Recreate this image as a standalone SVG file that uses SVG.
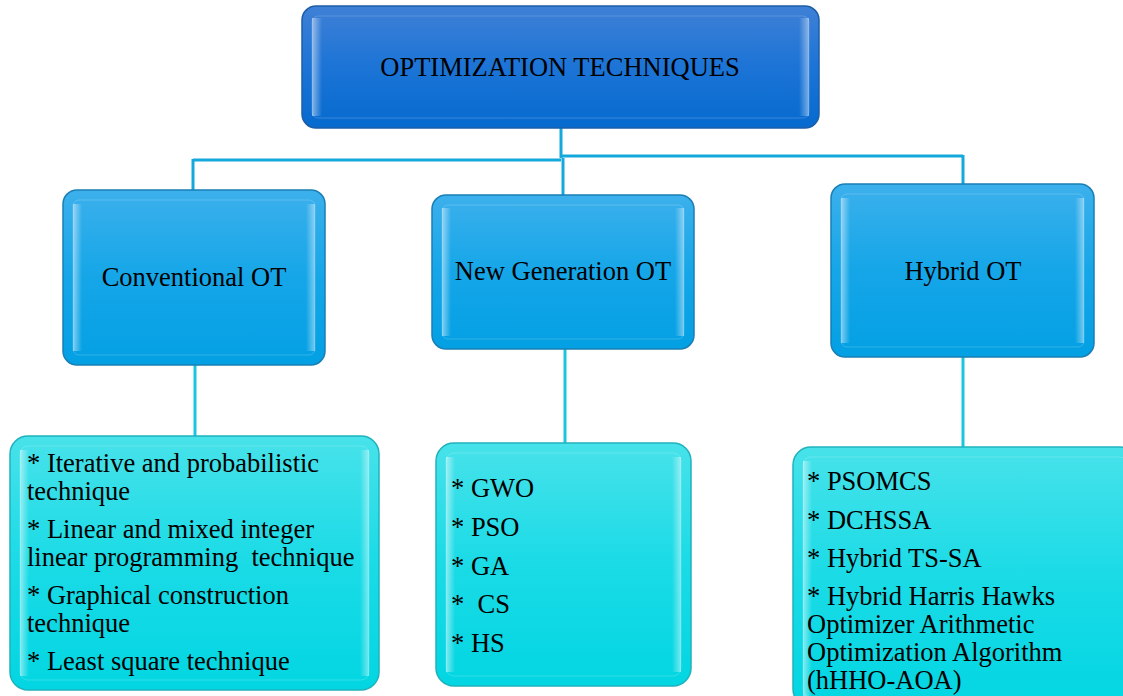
<svg xmlns="http://www.w3.org/2000/svg" width="1123" height="696" viewBox="0 0 1123 696">
<defs>
<linearGradient id="gTop" x1="0" y1="0" x2="0" y2="1">
<stop offset="0" stop-color="#3f80d6"/><stop offset="0.5" stop-color="#1c74d6"/><stop offset="1" stop-color="#066acf"/>
</linearGradient>
<linearGradient id="gMid" x1="0" y1="0" x2="0" y2="1">
<stop offset="0" stop-color="#3cb0ec"/><stop offset="0.5" stop-color="#15a6e8"/><stop offset="1" stop-color="#03a0e4"/>
</linearGradient>
<linearGradient id="gBot" x1="0" y1="0" x2="0" y2="1">
<stop offset="0" stop-color="#48e2ea"/><stop offset="0.5" stop-color="#1adbe6"/><stop offset="1" stop-color="#02d6e2"/>
</linearGradient>
<linearGradient id="gEdge" x1="0" y1="0" x2="1" y2="0">
<stop offset="0" stop-color="#ffffff" stop-opacity="0.5"/><stop offset="1" stop-color="#ffffff" stop-opacity="0"/>
</linearGradient>
<linearGradient id="gEdgeR" x1="1" y1="0" x2="0" y2="0">
<stop offset="0" stop-color="#ffffff" stop-opacity="0.45"/><stop offset="1" stop-color="#ffffff" stop-opacity="0"/>
</linearGradient>
</defs>
<style>
.top{fill:url(#gTop);stroke:#1d5ea6;stroke-width:1.5}
.mid{fill:url(#gMid);stroke:#1a7fb4;stroke-width:1.5}
.bot{fill:url(#gBot);stroke:#1fb2bd;stroke-width:1.5}
.inner{fill:none;stroke:#ffffff;stroke-opacity:0.18;stroke-width:1}
.t{font-family:"Liberation Serif","Times New Roman",serif;fill:#000;font-size:26.5px}
.c{text-anchor:middle}
.conn{fill:none;stroke-width:3}
</style>

<g id="connectors">
<path class="conn" stroke="#15a8dc" d="M561 128 V158"/>
<path class="conn" stroke="#15a8dc" d="M193 160 H561 M561 156 H963"/>
<path class="conn" stroke="#15a8dc" d="M563 158 V195"/>
<path class="conn" stroke="#15a8dc" d="M193 159 V190"/>
<path class="conn" stroke="#15a8dc" d="M963 155 V184"/>
<path class="conn" stroke="#19c6dc" d="M195 365 V437"/>
<path class="conn" stroke="#19c6dc" d="M565 349 V443"/>
<path class="conn" stroke="#19c6dc" d="M963 357 V447"/>
</g>

<g id="node-root">
<rect class="top" x="302" y="6" width="517" height="122" rx="14"/>
<rect x="312" y="18" width="10" height="98" fill="url(#gEdge)"/>
<rect x="799" y="18" width="10" height="98" fill="url(#gEdgeR)"/>
<rect class="inner" x="312" y="16" width="497" height="102" rx="6"/>
<text class="t c" x="560" y="76">OPTIMIZATION TECHNIQUES</text>
</g>

<g id="node-conventional">
<rect class="mid" x="63" y="190" width="262" height="175" rx="14"/>
<rect x="73" y="204" width="9" height="147" fill="url(#gEdge)"/>
<rect x="306" y="204" width="9" height="147" fill="url(#gEdgeR)"/>
<rect class="inner" x="73" y="200" width="242" height="155" rx="6"/>
<text class="t c" x="194" y="286">Conventional OT</text>
</g>

<g id="node-newgen">
<rect class="mid" x="432" y="195" width="262" height="154" rx="14"/>
<rect x="442" y="208" width="9" height="128" fill="url(#gEdge)"/>
<rect x="675" y="208" width="9" height="128" fill="url(#gEdgeR)"/>
<rect class="inner" x="442" y="205" width="242" height="134" rx="6"/>
<text class="t c" x="563" y="280">New Generation OT</text>
</g>

<g id="node-hybrid">
<rect class="mid" x="831" y="184" width="263" height="173" rx="14"/>
<rect x="841" y="198" width="9" height="145" fill="url(#gEdge)"/>
<rect x="1075" y="198" width="9" height="145" fill="url(#gEdgeR)"/>
<rect class="inner" x="841" y="194" width="243" height="153" rx="6"/>
<text class="t c" x="963" y="280">Hybrid OT</text>
</g>

<g id="node-conv-list">
<rect class="bot" x="10" y="436" width="369" height="254" rx="18"/>
<rect x="20" y="450" width="9" height="226" fill="url(#gEdge)"/>
<rect x="360" y="450" width="9" height="226" fill="url(#gEdgeR)"/>
<rect class="inner" x="20" y="446" width="349" height="234" rx="8"/>
<text class="t" x="27" y="472">* Iterative and probabilistic</text>
<text class="t" x="27" y="500">technique</text>
<text class="t" x="27" y="538">* Linear and mixed integer</text>
<text class="t" x="27" y="566" xml:space="preserve">linear programming  technique</text>
<text class="t" x="27" y="604">* Graphical construction</text>
<text class="t" x="27" y="632">technique</text>
<text class="t" x="27" y="670">* Least square technique</text>
</g>

<g id="node-newgen-list">
<rect class="bot" x="436" y="443" width="255" height="243" rx="18"/>
<rect x="446" y="457" width="9" height="215" fill="url(#gEdge)"/>
<rect x="672" y="457" width="9" height="215" fill="url(#gEdgeR)"/>
<rect class="inner" x="446" y="453" width="235" height="223" rx="8"/>
<text class="t" x="451" y="497">* GWO</text>
<text class="t" x="451" y="536">* PSO</text>
<text class="t" x="451" y="575">* GA</text>
<text class="t" x="451" y="613" xml:space="preserve">*  CS</text>
<text class="t" x="451" y="652">* HS</text>
</g>

<g id="node-hybrid-list">
<rect class="bot" x="793" y="447" width="345" height="260" rx="18"/>
<rect x="803" y="461" width="9" height="235" fill="url(#gEdge)"/>
<rect class="inner" x="803" y="457" width="325" height="240" rx="8"/>
<text class="t" x="807" y="490">* PSOMCS</text>
<text class="t" x="807" y="529">* DCHSSA</text>
<text class="t" x="807" y="567">* Hybrid TS-SA</text>
<text class="t" x="807" y="605">* Hybrid Harris Hawks</text>
<text class="t" x="807" y="633">Optimizer Arithmetic</text>
<text class="t" x="807" y="661">Optimization Algorithm</text>
<text class="t" x="807" y="689">(hHHO-AOA)</text>
</g>
</svg>
